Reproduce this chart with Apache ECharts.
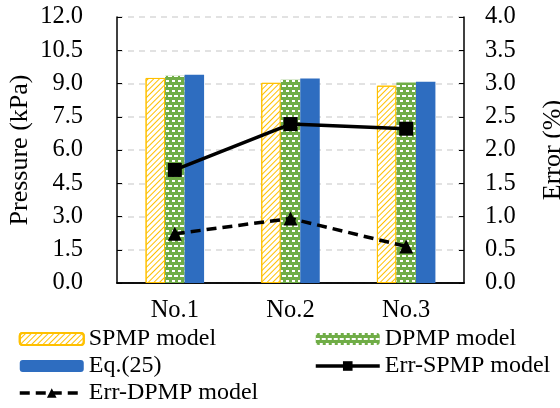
<!DOCTYPE html>
<html>
<head>
<meta charset="utf-8">
<script src="https://cdn.jsdelivr.net/npm/echarts@6/dist/echarts.min.js"></script>
<style>
  html, body { margin: 0; padding: 0; background: #fff; }
  #chart { width: 560px; height: 408px; }
</style>
</head>
<body>
<div id="chart"></div>
<script>
const categories = ['No.1', 'No.2', 'No.3']
const spmpValues = [9.25, 9.03, 8.9]
const dpmpValues = [9.35, 9.17, 9.05]
const eqValues = [9.4, 9.23, 9.08]
const errSpmpValues = [1.70, 2.39, 2.32]
const errDpmpValues = [0.74, 0.97, 0.55]

const font = 'Liberation Serif'
const chart = echarts.init(document.getElementById('chart'))

// legend in two columns, like the excel original
const legendBase = {
  orient: 'vertical',
  top: 327,
  padding: 0,
  itemWidth: 64,
  itemHeight: 12,
  itemGap: 3,
  lineStyle: { width: 3.5 },
  textStyle: { fontFamily: font, fontSize: 24, color: '#000' }
}

let option = {
  animation: false,
  textStyle: { fontFamily: font, color: '#000' },
  grid: {
    left: 117,
    right: 96,
    top: 17,
    bottom: 125,
    outerBoundsMode: 'none'
  },
  legend: [
    Object.assign({}, legendBase, {
      left: 18,
      data: ['SPMP model', 'Eq.(25)', 'Err-DPMP model']
    }),
    Object.assign({}, legendBase, {
      left: 314,
      data: ['DPMP model', 'Err-SPMP model']
    })
  ],
  xAxis: [
    {
      type: 'category',
      data: categories,
      axisLine: { lineStyle: { color: '#000', width: 1.5 } },
      axisTick: { show: false },
      axisLabel: { fontSize: 24.5, margin: 15, color: '#000' }
    },
    {
      // top frame line
      type: 'category',
      position: 'top',
      data: categories,
      axisLine: { lineStyle: { color: '#000', width: 1.5 } },
      axisTick: { show: false },
      axisLabel: { show: false }
    }
  ],
  yAxis: [
    {
      type: 'value',
      min: 0,
      max: 12,
      interval: 1.5,
      name: 'Pressure (kPa)',
      nameLocation: 'middle',
      nameRotate: 90,
      nameGap: 84,
      nameMoveOverlap: false,
      nameTextStyle: { fontSize: 26, color: '#000' },
      axisLine: { show: true, lineStyle: { color: '#000', width: 1.5 } },
      axisTick: { show: true, inside: true, length: 5, lineStyle: { color: '#000' } },
      axisLabel: {
        fontSize: 24.5,
        margin: 34,
        color: '#000',
        formatter: v => v.toFixed(1)
      },
      splitLine: { lineStyle: { color: '#D9D9D9', width: 1.5, type: [6, 5] } }
    },
    {
      type: 'value',
      min: 0,
      max: 4,
      interval: 0.5,
      name: 'Error (%)',
      nameLocation: 'middle',
      nameRotate: 90,
      nameGap: 76,
      nameMoveOverlap: false,
      nameTextStyle: { fontSize: 26, color: '#000' },
      axisLine: { show: true, lineStyle: { color: '#000', width: 1.5 } },
      axisTick: { show: true, inside: true, length: 5, lineStyle: { color: '#000' } },
      axisLabel: {
        fontSize: 24.5,
        margin: 21,
        color: '#000',
        formatter: v => v.toFixed(1)
      },
      splitLine: { show: false }
    }
  ],
  series: [
    {
      name: 'SPMP model',
      type: 'bar',
      data: spmpValues,
      barWidth: 19.5,
      barGap: '0%',
      itemStyle: {
        color: '#fff',
        borderColor: '#FFC000',
        borderWidth: 1,
        decal: {
          symbol: 'rect',
          color: '#FFC000',
          dashArrayX: [1, 0],
          dashArrayY: [1, 2.5],
          rotation: -Math.PI / 4
        }
      }
    },
    {
      name: 'DPMP model',
      type: 'bar',
      data: dpmpValues,
      barWidth: 19.5,
      barGap: '0%',
      itemStyle: {
        color: '#70AD47',
        decal: {
          symbol: 'rect',
          color: '#fff',
          dashArrayX: [[4, 2], [1, 3, 2, 0]],
          dashArrayY: [1.5, 2.5],
          rotation: 0
        }
      }
    },
    {
      name: 'Eq.(25)',
      type: 'bar',
      data: eqValues,
      barWidth: 19.5,
      barGap: '0%',
      itemStyle: { color: '#2E6DC0' }
    },
    {
      name: 'Err-SPMP model',
      type: 'line',
      yAxisIndex: 1,
      data: errSpmpValues,
      symbol: 'rect',
      symbolSize: 14,
      z: 5,
      itemStyle: { color: '#000' },
      lineStyle: { color: '#000', width: 3.5 }
    },
    {
      name: 'Err-DPMP model',
      type: 'line',
      yAxisIndex: 1,
      data: errDpmpValues,
      symbol: 'triangle',
      symbolSize: 14,
      z: 5,
      itemStyle: { color: '#000' },
      lineStyle: { color: '#000', width: 3.5, type: [10, 6] }
    }
  ]
}
chart.setOption(option)
</script>
</body>
</html>
